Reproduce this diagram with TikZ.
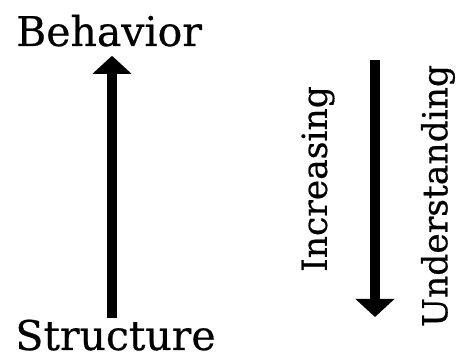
\documentclass[tikz,border=0pt]{standalone}
\usepackage{fontspec}
\setmainfont{DejaVu Serif}[FakeBold=0.5]
\usetikzlibrary{arrows.meta}
\tikzset{bigarrow/.style={-{Triangle[width=38pt,length=18pt]},line width=10pt,black}}
\tikzset{label/.style={inner sep=0pt,font=\fontsize{41}{48}\selectfont}}
\tikzset{sidelabel/.style={inner sep=0pt,rotate=90,font=\fontsize{34.5}{40}\selectfont}}

\begin{document}
\begin{tikzpicture}[x=1pt,y=1pt]

	\useasboundingbox (0,0) rectangle (460,358);
	\node[label,anchor=base] (behavior) at (109,312) {Behavior};
	\node[label,anchor=base] (structure) at (115.5,8) {Structure};
	\coordinate (upx) at (112,0);
	\draw[bigarrow,shorten <=1pt,shorten >=9pt] (structure.north -| upx) -- (behavior.south -| upx);
	\node[sidelabel] (increasing) at (318,179) {Increasing};
	\node[sidelabel] (understanding) at (438,162) {Understanding};
	\coordinate (downtop) at (375,298);
	\coordinate (downtip) at (375,41);
	\draw[bigarrow] (downtop) -- (downtip);
\end{tikzpicture}
\end{document}
